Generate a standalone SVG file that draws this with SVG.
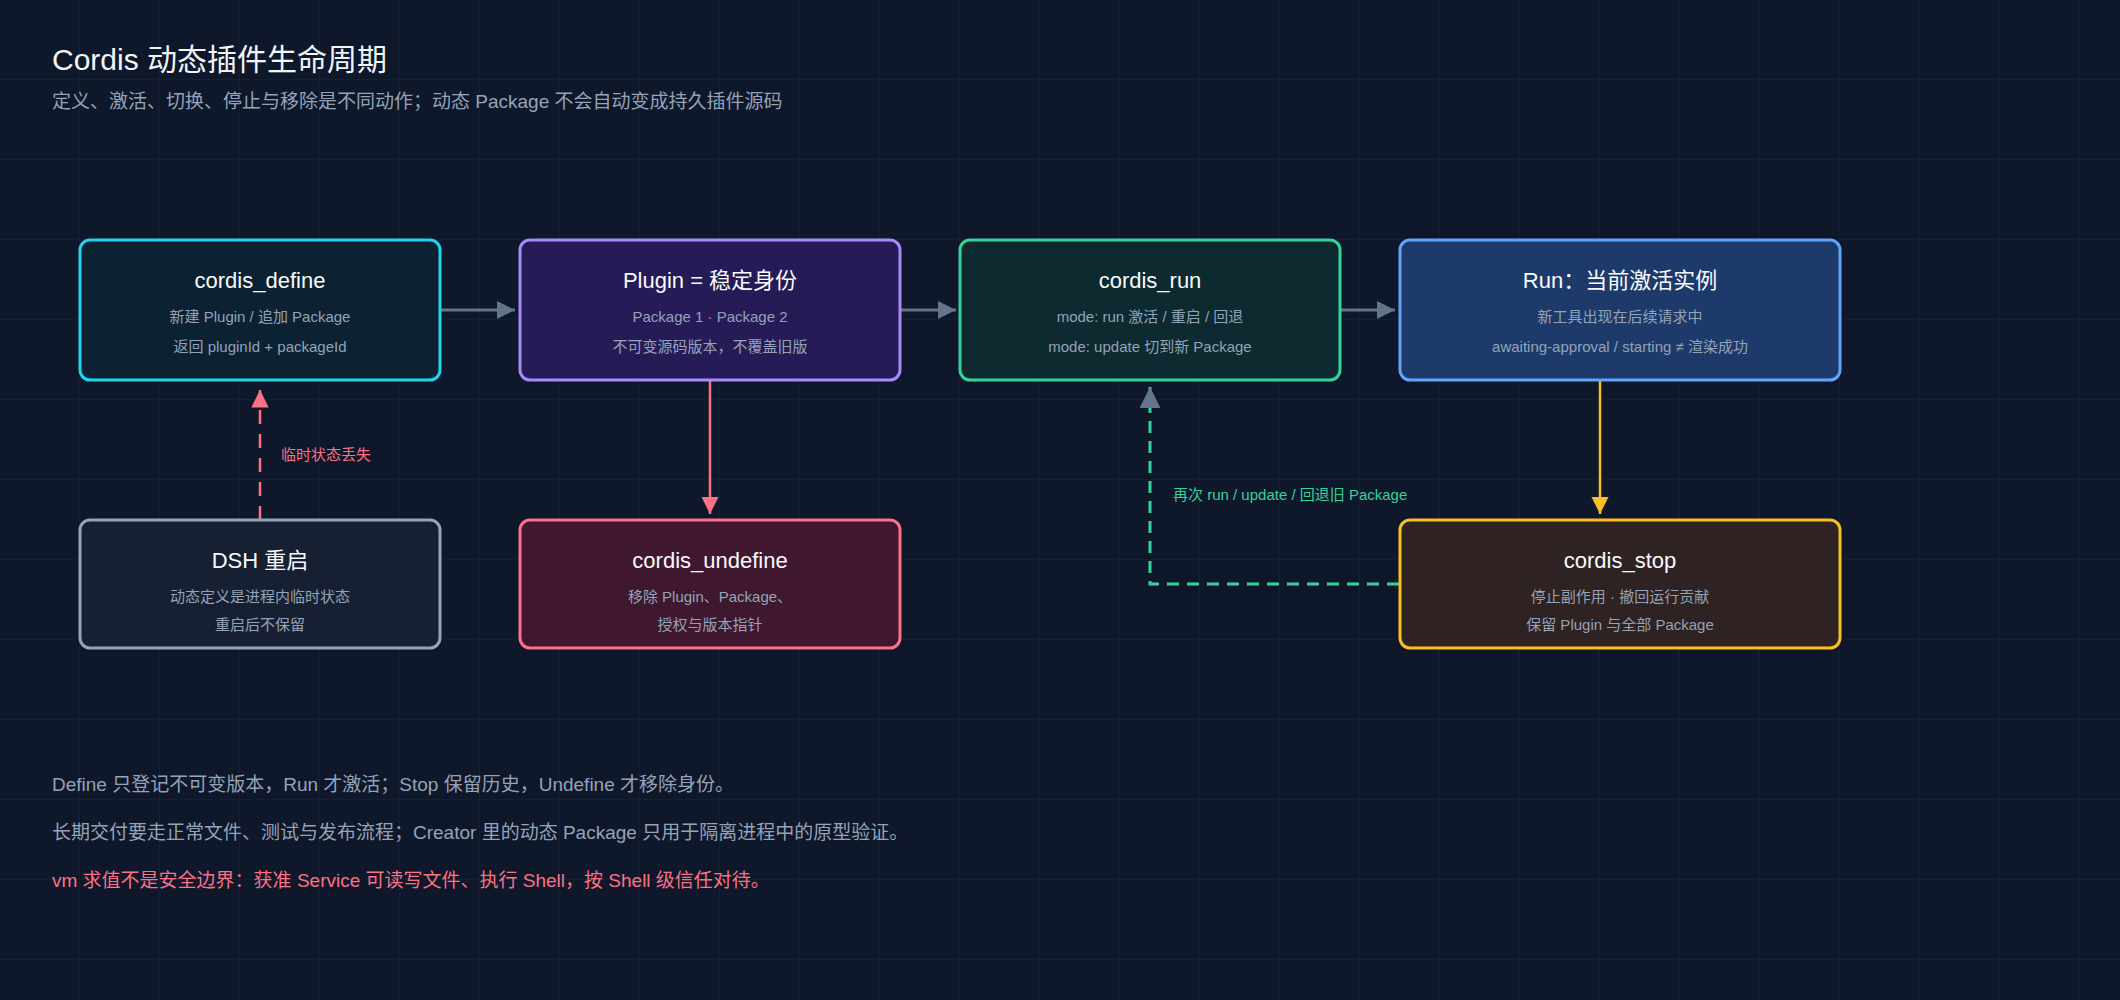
<svg xmlns="http://www.w3.org/2000/svg" width="2120" height="1000" viewBox="0 0 2120 1000">
<defs>
<pattern id="grid" width="80" height="80" patternUnits="userSpaceOnUse"><path d="M80 0V80H0" fill="none" stroke="#1b2637" stroke-width="1"/></pattern>
<marker id="ag" viewBox="0 0 10 10" refX="10" refY="5" markerWidth="6" markerHeight="6" markerUnits="strokeWidth" orient="auto"><path d="M0 0L10 5L0 10z" fill="#64748b"/></marker>
<marker id="ar" viewBox="0 0 10 10" refX="10" refY="5" markerWidth="7" markerHeight="7" markerUnits="strokeWidth" orient="auto"><path d="M0 0L10 5L0 10z" fill="#fb7185"/></marker>
<marker id="ay" viewBox="0 0 10 10" refX="10" refY="5" markerWidth="7" markerHeight="7" markerUnits="strokeWidth" orient="auto"><path d="M0 0L10 5L0 10z" fill="#fbbf24"/></marker>
<marker id="ap" viewBox="0 0 10 10" refX="10" refY="5" markerWidth="7" markerHeight="7" markerUnits="strokeWidth" orient="auto"><path d="M0 0L10 5L0 10z" fill="#64748b"/></marker>
</defs>
<style>
text{font-family:"Liberation Sans","Noto Sans CJK SC",sans-serif}
.t{font-size:22px;fill:#f8fafc;text-anchor:middle}
.s{font-size:15px;fill:#94a3b8;text-anchor:middle}
.b{stroke-width:3}
.n{font-size:19px;fill:#94a3b8}
</style>
<rect width="2120" height="1000" fill="#0f172a"/>
<rect width="2120" height="1000" fill="url(#grid)"/>
<text x="52" y="70" font-size="30" fill="#f1f5f9">Cordis 动态插件生命周期</text>
<text x="52" y="108" font-size="19" fill="#94a3b8">定义、激活、切换、停止与移除是不同动作；动态 Package 不会自动变成持久插件源码</text>
<g id="connectors" fill="none">
<path d="M440 310H515" stroke="#64748b" stroke-width="3" marker-end="url(#ag)"/>
<path d="M900 310H956" stroke="#64748b" stroke-width="3" marker-end="url(#ag)"/>
<path d="M1340 310H1395" stroke="#64748b" stroke-width="3" marker-end="url(#ag)"/>
<path d="M710 381V514" stroke="#fb7185" stroke-width="2.5" marker-end="url(#ar)"/>
<path d="M1600 381V514" stroke="#fbbf24" stroke-width="2.5" marker-end="url(#ay)"/>
<path d="M260 520V390" stroke="#fb7185" stroke-width="2.5" stroke-dasharray="14 10" marker-end="url(#ar)"/>
<path d="M1399 584H1150V387" stroke="#34d399" stroke-width="3" stroke-dasharray="12 8" marker-end="url(#ap)"/>
<text x="281" y="460" font-size="15" fill="#fb7185">临时状态丢失</text>
<text x="1173" y="500" font-size="15" fill="#34d399">再次 run / update / 回退旧 Package</text>
</g>
<g id="define"><rect x="80" y="240" width="360" height="140" rx="10" fill="#0c2233" stroke="#22d3ee" class="b"/>
<text class="t" x="260" y="288">cordis_define</text><text class="s" x="260" y="322">新建 Plugin / 追加 Package</text><text class="s" x="260" y="352">返回 pluginId + packageId</text></g>
<g id="plugin"><rect x="520" y="240" width="380" height="140" rx="10" fill="#261b56" stroke="#a78bfa" class="b"/>
<text class="t" x="710" y="288">Plugin = 稳定身份</text><text class="s" x="710" y="322">Package 1 · Package 2</text><text class="s" x="710" y="352">不可变源码版本，不覆盖旧版</text></g>
<g id="run"><rect x="960" y="240" width="380" height="140" rx="10" fill="#0c2a2f" stroke="#34d399" class="b"/>
<text class="t" x="1150" y="288">cordis_run</text><text class="s" x="1150" y="322">mode: run 激活 / 重启 / 回退</text><text class="s" x="1150" y="352">mode: update 切到新 Package</text></g>
<g id="runinst"><rect x="1400" y="240" width="440" height="140" rx="10" fill="#1e3a6a" stroke="#60a5fa" class="b"/>
<text class="t" x="1620" y="288">Run：当前激活实例</text><text class="s" x="1620" y="322">新工具出现在后续请求中</text><text class="s" x="1620" y="352">awaiting-approval / starting ≠ 渲染成功</text></g>
<g id="dsh"><rect x="80" y="520" width="360" height="128" rx="10" fill="#172032" stroke="#94a3b8" class="b"/>
<text class="t" x="260" y="568">DSH 重启</text><text class="s" x="260" y="602">动态定义是进程内临时状态</text><text class="s" x="260" y="630">重启后不保留</text></g>
<g id="undefine"><rect x="520" y="520" width="380" height="128" rx="10" fill="#3f1830" stroke="#fb7185" class="b"/>
<text class="t" x="710" y="568">cordis_undefine</text><text class="s" x="710" y="602">移除 Plugin、Package、</text><text class="s" x="710" y="630">授权与版本指针</text></g>
<g id="stop"><rect x="1400" y="520" width="440" height="128" rx="10" fill="#2e2222" stroke="#fbbf24" class="b"/>
<text class="t" x="1620" y="568">cordis_stop</text><text class="s" x="1620" y="602">停止副作用 · 撤回运行贡献</text><text class="s" x="1620" y="630">保留 Plugin 与全部 Package</text></g>
<text class="n" x="52" y="791">Define 只登记不可变版本，Run 才激活；Stop 保留历史，Undefine 才移除身份。</text>
<text class="n" x="52" y="839">长期交付要走正常文件、测试与发布流程；Creator 里的动态 Package 只用于隔离进程中的原型验证。</text>
<text class="n" x="52" y="887" style="fill:#fb7185">vm 求值不是安全边界：获准 Service 可读写文件、执行 Shell，按 Shell 级信任对待。</text>
</svg>
